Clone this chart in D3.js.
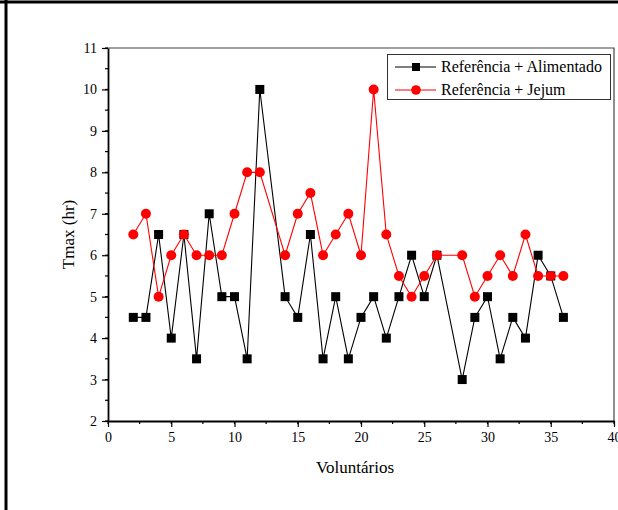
<!DOCTYPE html>
<html>
<head>
<meta charset="utf-8">
<script src="https://cdn.jsdelivr.net/npm/d3@7"></script>
<style>
  body { margin: 0; background: #fff; }
  svg text { font-family: "Liberation Serif", "Times New Roman", serif; }
</style>
</head>
<body>
<div id="chart"></div>
<script>
// data (volunteers 13 and 27 are missing in both)
var voluntarios = [2, 3, 4, 5, 6, 7, 8, 9, 10, 11, 12, 14, 15, 16, 17, 18, 19, 20, 21, 22, 23, 24, 25, 26, 28, 29, 30, 31, 32, 33, 34, 35, 36];
var alimentado = [4.5, 4.5, 6.5, 4, 6.5, 3.5, 7, 5, 5, 3.5, 10, 5, 4.5, 6.5, 3.5, 5, 3.5, 4.5, 5, 4, 5, 6, 5, 6, 3, 4.5, 5, 3.5, 4.5, 4, 6, 5.5, 4.5];
var jejum = [6.5, 7, 5, 6, 6.5, 6, 6, 6, 7, 8, 8, 6, 7, 7.5, 6, 6.5, 7, 6, 10, 6.5, 5.5, 5, 5.5, 6, 6, 5, 5.5, 6, 5.5, 6.5, 5.5, 5.5, 5.5];
var seriesNames = ["Referência + Alimentado", "Referência + Jejum"];
var xTicks = [0, 5, 10, 15, 20, 25, 30, 35, 40];
var yTicks = [2, 3, 4, 5, 6, 7, 8, 9, 10, 11];

var w = 618, h = 510;
var pLeft = 108, pRight = 614, pTop = 48, pBottom = 421; // plot box
var serif = "Liberation Serif";

var svg = d3.select("#chart").append("svg")
    .attr("width", w)
    .attr("height", h)
    .style("display", "block");

// outer frame (only top and left edges show)
svg.append("line").attr("x1", 0).attr("x2", w).attr("y1", 2).attr("y2", 2)
    .attr("stroke", "#000").attr("stroke-width", 3);
svg.append("line").attr("x1", 6).attr("x2", 6).attr("y1", 0).attr("y2", h)
    .attr("stroke", "#000").attr("stroke-width", 3);

var x = d3.scaleLinear().domain([0, 40]).range([pLeft, pRight]);
var y = d3.scaleLinear().domain([2, 11]).range([pBottom, pTop]);

// plot box top/right
svg.append("path")
    .attr("d", "M" + pLeft + "," + pTop + "H" + pRight + "V" + pBottom)
    .attr("fill", "none").attr("stroke", "#444").attr("stroke-width", 1.2);

// minor ticks
var xMinor = d3.range(0, 40.1, 2.5);
svg.append("g").selectAll("line").data(xMinor).enter().append("line")
    .attr("x1", function(d) { return x(d); }).attr("x2", function(d) { return x(d); })
    .attr("y1", pBottom).attr("y2", pBottom + 3)
    .attr("stroke", "#000").attr("stroke-width", 1.2);
var yMinor = d3.range(2, 11.01, 0.5);
svg.append("g").selectAll("line").data(yMinor).enter().append("line")
    .attr("x1", pLeft - 3).attr("x2", pLeft)
    .attr("y1", function(d) { return y(d); }).attr("y2", function(d) { return y(d); })
    .attr("stroke", "#000").attr("stroke-width", 1.2);

// x-axis
var xAxis = svg.append("g")
    .attr("transform", "translate(0," + pBottom + ")")
    .call(d3.axisBottom(x).tickValues(xTicks).tickSize(6).tickPadding(5).tickSizeOuter(0));
// y-axis
var yAxis = svg.append("g")
    .attr("transform", "translate(" + pLeft + ",0)")
    .call(d3.axisLeft(y).tickValues(yTicks).tickSize(6).tickPadding(5).tickSizeOuter(0));

[xAxis, yAxis].forEach(function(g) {
    g.attr("font-family", serif).attr("font-size", 14);
    g.select(".domain").attr("stroke-width", 1.8);
    g.selectAll(".tick line").attr("stroke-width", 1.2);
    g.selectAll("text").attr("fill", "#000");
});

// axis titles
svg.append("text")
    .attr("x", (pLeft + pRight) / 2 - 6).attr("y", 473)
    .attr("text-anchor", "middle").attr("font-family", serif).attr("font-size", 17)
    .text("Voluntários");
svg.append("text")
    .attr("transform", "translate(74," + ((pTop + pBottom) / 2) + ") rotate(-90)")
    .attr("text-anchor", "middle").attr("font-family", serif).attr("font-size", 17)
    .text("Tmax (hr)");

var line = d3.line()
    .x(function(d) { return x(d[0]); })
    .y(function(d) { return y(d[1]); });

var dataA = voluntarios.map(function(v, i) { return [v, alimentado[i]]; });
var dataJ = voluntarios.map(function(v, i) { return [v, jejum[i]]; });

// black series
svg.append("path").datum(dataA).attr("d", line)
    .attr("fill", "none").attr("stroke", "#000").attr("stroke-width", 1.1);
svg.append("g").selectAll("rect").data(dataA).enter().append("rect")
    .attr("x", function(d) { return x(d[0]) - 4.5; })
    .attr("y", function(d) { return y(d[1]) - 4.5; })
    .attr("width", 9).attr("height", 9)
    .attr("fill", "#000");

// red series
svg.append("path").datum(dataJ).attr("d", line)
    .attr("fill", "none").attr("stroke", "#ff0000").attr("stroke-width", 1.1);
svg.append("g").selectAll("circle").data(dataJ).enter().append("circle")
    .attr("cx", function(d) { return x(d[0]); })
    .attr("cy", function(d) { return y(d[1]); })
    .attr("r", 5)
    .attr("fill", "#ff0000");

// legend
var lg = svg.append("g");
lg.append("rect").attr("x", 387.5).attr("y", 54.5).attr("width", 223).attr("height", 45)
    .attr("fill", "#fff").attr("stroke", "#333").attr("stroke-width", 1);
var rows = [{ name: seriesNames[0], color: "#000", shape: "square", yy: 67 },
            { name: seriesNames[1], color: "#ff0000", shape: "circle", yy: 90 }];
rows.forEach(function(r) {
    lg.append("line").attr("x1", 395).attr("x2", 436).attr("y1", r.yy).attr("y2", r.yy)
        .attr("stroke", r.color).attr("stroke-width", 1.1);
    if (r.shape === "square") {
        lg.append("rect").attr("x", 412).attr("y", r.yy - 4).attr("width", 8).attr("height", 8).attr("fill", r.color);
    } else {
        lg.append("circle").attr("cx", 416).attr("cy", r.yy).attr("r", 4.8).attr("fill", r.color);
    }
    lg.append("text").attr("x", 441).attr("y", r.yy + 5)
        .attr("font-family", serif).attr("font-size", 16).text(r.name);
});
</script>
</body>
</html>
